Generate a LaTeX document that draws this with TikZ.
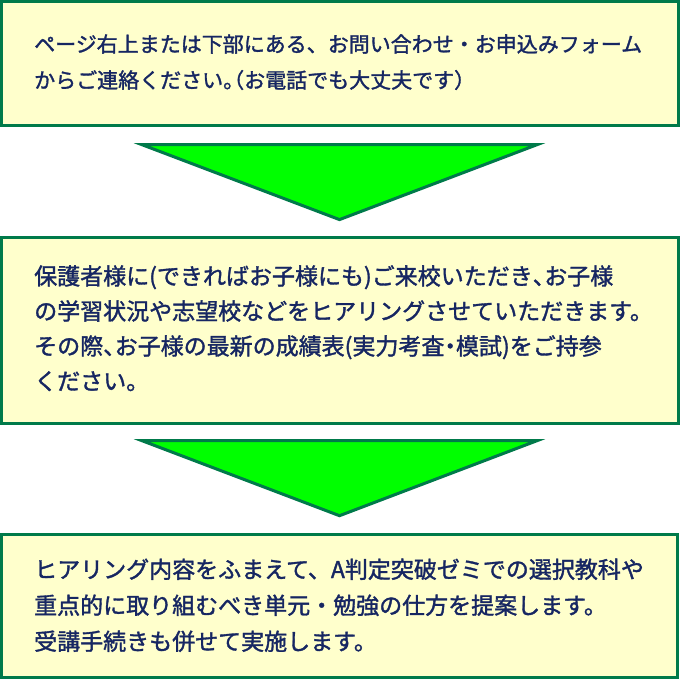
\documentclass[tikz,border=0pt]{standalone}
\usepackage{fontspec}
\newfontfamily\jp[FakeBold=1.5]{Noto Sans CJK JP}
\definecolor{bordergreen}{RGB}{0,122,74}
\definecolor{boxfill}{RGB}{255,255,204}
\definecolor{arrowgreen}{RGB}{0,255,0}
\definecolor{navytext}{RGB}{22,38,98}
\newcommand\hwl[1]{\makebox[0.5em][l]{#1}}
\newcommand\hwr[1]{\makebox[0.5em][r]{#1}}
\newcommand\hwc[1]{\makebox[0.5em][c]{#1}}
\begin{document}
\begin{tikzpicture}[x=1pt,y=-1pt,
  box/.style={draw=bordergreen, line width=3pt, fill=boxfill, rectangle, inner sep=0pt, outer sep=0pt, anchor=north west},
  arrowtri/.style={draw=bordergreen, line width=3pt, fill=arrowgreen, line join=miter},
  smalltxt/.style={text=navytext, inner sep=0pt, anchor=base west, font=\jp\fontsize{21}{21}\selectfont},
  bigtxt/.style={text=navytext, inner sep=0pt, anchor=base west, font=\jp\fontsize{23}{23}\selectfont}]
\useasboundingbox (0,0) rectangle (680,679);
% boxes
\node[box, minimum width=677pt, minimum height=124pt] (box1) at (1.5,1.5) {};
\node[box, minimum width=677pt, minimum height=186pt] (box2) at (1.5,237.5) {};
\node[box, minimum width=675.5pt, minimum height=143pt] (box3) at (1.5,534.5) {};
% arrow triangles
\coordinate (t1l) at (142,144.7);
\coordinate (t1r) at (537,144.7);
\coordinate (t1a) at (339.5,219.6);
\coordinate (t2l) at (142,440.7);
\coordinate (t2r) at (537,440.7);
\coordinate (t2a) at (339.5,515.7);
\draw[arrowtri] (t1l) -- (t1r) -- (t1a) -- cycle;
\draw[arrowtri] (t2l) -- (t2r) -- (t2a) -- cycle;
% texts box 1
\node[smalltxt] (b1l1) at (34,52) {ページ右上または下部にある、お問い合わせ・お申込みフォーム};
\node[smalltxt] (b1l2) at (34,88) {からご連絡ください\hwl{。}\hwr{（}お電話でも大丈夫です）};
% texts box 2
\node[bigtxt] (b2l1) at (34,284.7) {保護者様に(できればお子様にも)ご来校いただき\hwl{、}お子様};
\node[bigtxt] (b2l2) at (34,319.7) {の学習状況や志望校などをヒアリングさせていただきます。};
\node[bigtxt] (b2l3) at (34,354.7) {その際\hwl{、}お子様の最新の成績表(実力考査\hwc{・}模試)をご持参};
\node[bigtxt] (b2l4) at (34,389.7) {ください。};
% texts box 3
\node[bigtxt] (b3l1) at (34,578) {ヒアリング内容をふまえて、A判定突破ゼミでの選択教科や};
\node[bigtxt] (b3l2) at (34,614) {重点的に取り組むべき単元・勉強の仕方を提案します。};
\node[bigtxt] (b3l3) at (34,650) {受講手続きも併せて実施します。};
\end{tikzpicture}
\end{document}
